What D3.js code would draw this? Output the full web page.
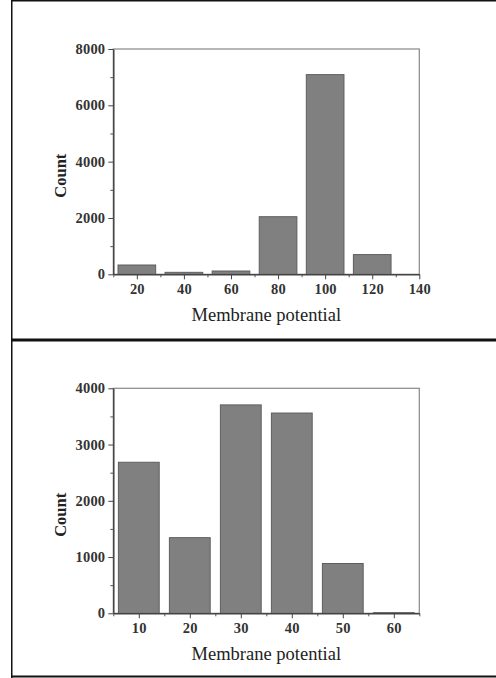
<!DOCTYPE html>
<html>
<head>
<meta charset="utf-8">
<script src="https://cdn.jsdelivr.net/npm/d3@7"></script>
<style>
  body { margin: 0; background: #fff; }
  .chart text { font-family: "Liberation Serif", "DejaVu Serif", serif; }
  .tick text { font-size: 14.5px; font-weight: bold; fill: #333; letter-spacing: 0.2px; }
  .axis path, .axis line { stroke: #444; }
  .minor path { display: none; }
  .minor line { stroke: #555; }
</style>
</head>
<body>
<div id="chart"></div>
<script>
// top panel
const topBins = [20, 40, 60, 80, 100, 120]
const topCounts = [330, 70, 117, 2045, 7090, 700]
const topXTicks = [20, 40, 60, 80, 100, 120, 140]
const topXMinor = [10, 30, 50, 70, 90, 110, 130]
const topYTicks = [0, 2000, 4000, 6000, 8000]
const topYMinor = [1000, 3000, 5000, 7000]

// bottom panel
const bottomBins = [10, 20, 30, 40, 50, 60]
const bottomCounts = [2685, 1345, 3705, 3560, 885, 12]
const bottomXTicks = [10, 20, 30, 40, 50, 60]
const bottomXMinor = [5, 15, 25, 35, 45, 55, 65]
const bottomYTicks = [0, 1000, 2000, 3000, 4000]
const bottomYMinor = [500, 1500, 2500, 3500]

const xTitle = 'Membrane potential'
const yTitle = 'Count'

const svg = d3.select('#chart').append('svg')
  .attr('class', 'chart')
  .attr('width', 496)
  .attr('height', 678)

function drawPanel (opts) {
  const { bins, counts, xDomain, yMax, binWidth, xTicks, xMinor, yTicks, yMinor, top, bottom } = opts
  const left = 113.3
  const right = 419.3

  const x = d3.scaleLinear().domain(xDomain).range([left, right])
  const y = d3.scaleLinear().domain([0, yMax]).range([bottom, top])

  const g = svg.append('g')

  // box around the plot
  g.append('rect')
    .attr('x', left)
    .attr('y', top)
    .attr('width', right - left)
    .attr('height', bottom - top)
    .attr('fill', 'none')
    .attr('stroke', '#888')
    .attr('stroke-width', 1.2)

  const barW = binWidth * 0.8
  g.selectAll('.bar').data(bins)
    .enter().append('rect')
    .attr('class', 'bar')
    .attr('x', d => x(d - barW / 2))
    .attr('width', d => x(d + barW / 2) - x(d - barW / 2))
    .attr('y', (d, i) => y(counts[i]))
    .attr('height', (d, i) => bottom - y(counts[i]))
    .attr('fill', '#808080')
    .attr('stroke', '#5e5e5e')
    .attr('stroke-width', 1)

  // minor ticks
  g.append('g')
    .attr('class', 'minor')
    .attr('transform', `translate(0,${bottom})`)
    .call(d3.axisBottom(x).tickValues(xMinor).tickSize(3).tickFormat(''))
  g.append('g')
    .attr('class', 'minor')
    .attr('transform', `translate(${left},0)`)
    .call(d3.axisLeft(y).tickValues(yMinor).tickSize(3).tickFormat(''))

  // major axes
  g.append('g')
    .attr('class', 'axis')
    .attr('transform', `translate(0,${bottom})`)
    .call(d3.axisBottom(x).tickValues(xTicks).tickFormat(d3.format('d'))
      .tickSize(5).tickSizeOuter(0).tickPadding(4))
  g.append('g')
    .attr('class', 'axis')
    .attr('transform', `translate(${left},0)`)
    .call(d3.axisLeft(y).tickValues(yTicks).tickFormat(d3.format('d'))
      .tickSize(5).tickSizeOuter(0).tickPadding(3))

  g.selectAll('.axis path').attr('stroke-width', 1.5)

  g.append('text')
    .attr('x', (left + right) / 2)
    .attr('y', bottom + 47)
    .attr('text-anchor', 'middle')
    .attr('font-size', 18.5)
    .attr('fill', '#222')
    .text(xTitle)

  g.append('text')
    .attr('transform', `translate(65.5,${(top + bottom) / 2 + 14}) rotate(-90)`)
    .attr('text-anchor', 'middle')
    .attr('font-size', 16.5)
    .attr('font-weight', 'bold')
    .attr('fill', '#222')
    .text(yTitle)
}

drawPanel({
  bins: topBins, counts: topCounts, xDomain: [10, 140], yMax: 8000, binWidth: 20,
  xTicks: topXTicks, xMinor: topXMinor, yTicks: topYTicks, yMinor: topYMinor,
  top: 49, bottom: 274.3
})

drawPanel({
  bins: bottomBins, counts: bottomCounts, xDomain: [5, 65], yMax: 4000, binWidth: 10,
  xTicks: bottomXTicks, xMinor: bottomXMinor, yTicks: bottomYTicks, yMinor: bottomYMinor,
  top: 388.3, bottom: 613.3
})

// outer frame lines
const frame = svg.append('g').attr('stroke', '#111')
frame.append('line').attr('x1', 11.75).attr('x2', 11.75).attr('y1', 0).attr('y2', 678).attr('stroke-width', 1.5)
frame.append('line').attr('x1', 11).attr('x2', 496).attr('y1', 0.75).attr('y2', 0.75).attr('stroke-width', 1.5)
frame.append('line').attr('x1', 11).attr('x2', 496).attr('y1', 340).attr('y2', 340).attr('stroke-width', 3)
frame.append('line').attr('x1', 11).attr('x2', 496).attr('y1', 676.5).attr('y2', 676.5).attr('stroke-width', 2)
</script>
</body>
</html>
